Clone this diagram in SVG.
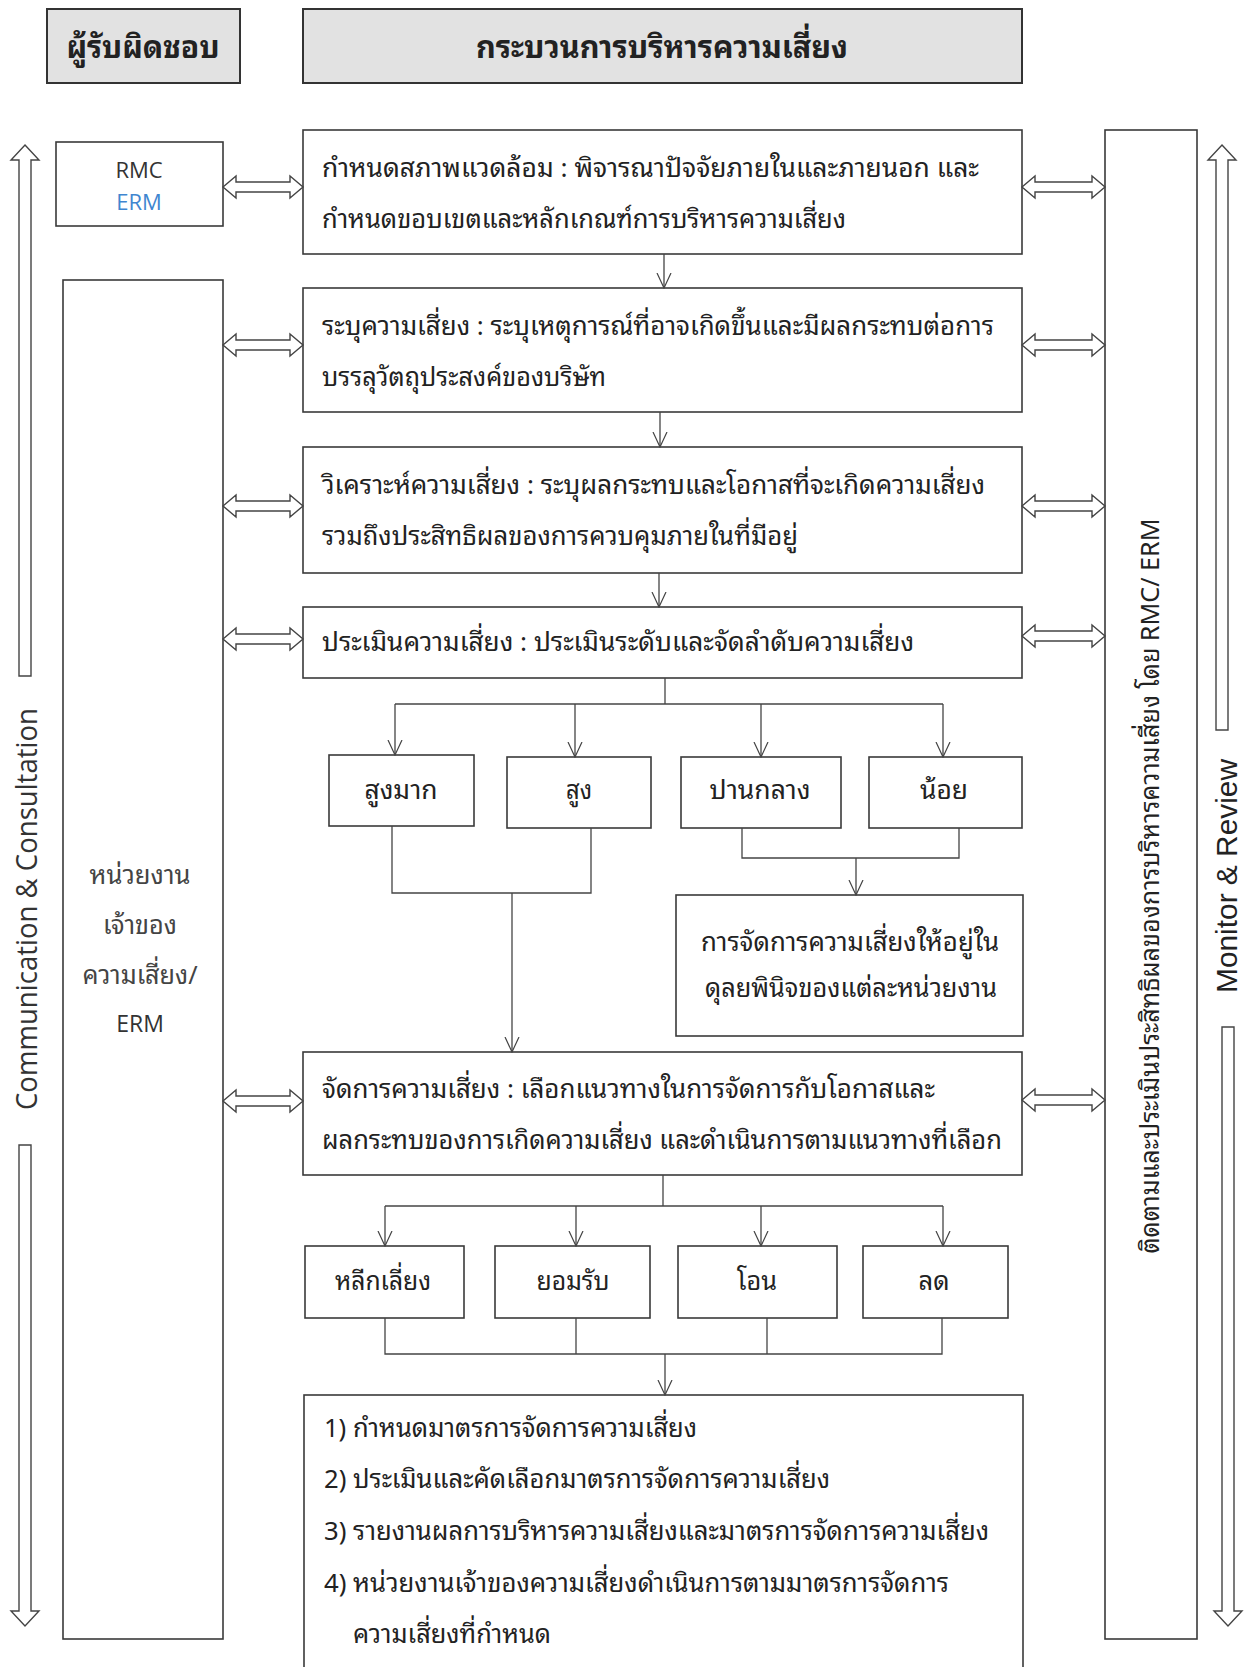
<svg xmlns="http://www.w3.org/2000/svg" width="1252" height="1667" viewBox="0 0 1252 1667">
<defs>
<style>
.hdr{fill:#e2e2e2;stroke:#333;stroke-width:2}
.box{fill:#fff;stroke:#3a3a3a;stroke-width:1.6}
.th{font-family:"Noto Sans Thai Looped","Noto Sans Thai","Noto Sans Thai UI","Loma","Garuda","Tahoma","Noto Sans","DejaVu Sans",sans-serif;fill:#222;font-size:26px}
.hd{font-family:"Noto Sans Thai Looped","Noto Sans Thai","Loma","Garuda","Tahoma","Noto Sans",sans-serif;fill:#222;font-size:31px;font-weight:bold}
.lat{font-family:"Open Sans","Liberation Sans",sans-serif;fill:#333}
.ar{font-family:"Liberation Sans",Arial,sans-serif;fill:#222}
.c{text-anchor:middle}
.ln{fill:none;stroke:#444;stroke-width:1.3}
.ha{fill:#fff;stroke:#444;stroke-width:1.4}
</style>
<marker id="v" markerUnits="userSpaceOnUse" viewBox="0 0 16 16" refX="15" refY="8" markerWidth="16" markerHeight="16" orient="auto">
<path d="M0,1 L15,8 L0,15" fill="none" stroke="#444" stroke-width="1.2"/>
</marker>
</defs>
<rect width="1252" height="1667" fill="#fff"/>

<g id="header-left">
<rect class="hdr" x="47" y="9" width="193" height="74"/>
<text class="hd c" x="143" y="58" textLength="153" lengthAdjust="spacingAndGlyphs">ผู้รับผิดชอบ</text>
</g>
<g id="header-right">
<rect class="hdr" x="303" y="9" width="719" height="74"/>
<text class="hd c" x="662" y="58" textLength="372" lengthAdjust="spacingAndGlyphs">กระบวนการบริหารความเสี่ยง</text>
</g>

<g id="comm-arrow">
<polygon class="ha" points="25,145 39,160 31,160 31,676 19,676 19,160 11,160"/>
<polygon class="ha" points="19,1145 31,1145 31,1611 39,1611 25,1626 11,1611 19,1611"/>
<text class="lat c" transform="translate(37,909) rotate(-90)" font-size="29" textLength="402" lengthAdjust="spacingAndGlyphs">Communication &amp; Consultation</text>
</g>

<g id="monitor-arrow">
<polygon class="ha" points="1222,145 1236,160 1228,160 1228,730 1216,730 1216,160 1208,160"/>
<polygon class="ha" points="1222,1027 1234,1027 1234,1611 1242,1611 1228,1626 1214,1611 1222,1611"/>
<text class="ar c" transform="translate(1237,876) rotate(-90)" font-size="30" textLength="234" lengthAdjust="spacingAndGlyphs">Monitor &amp; Review</text>
</g>

<g id="rmc">
<rect class="box" x="56" y="142" width="167" height="84"/>
<text class="lat c" x="139" y="178" font-size="22">RMC</text>
<text class="lat c" x="139" y="210" font-size="22" style="fill:#3f86d0">ERM</text>
</g>

<g id="owner">
<rect class="box" x="63" y="280" width="160" height="1359"/>
<text class="th c" x="140" y="884" textLength="101" lengthAdjust="spacingAndGlyphs" style="fill:#444">หน่วยงาน</text>
<text class="th c" x="140" y="934" textLength="74" lengthAdjust="spacingAndGlyphs" style="fill:#444">เจ้าของ</text>
<text class="th c" x="140" y="984" textLength="115" lengthAdjust="spacingAndGlyphs" style="fill:#444">ความเสี่ยง/</text>
<text class="lat c" x="140" y="1032" font-size="23" fill="#444">ERM</text>
</g>

<g id="monitor-box">
<rect class="box" x="1105" y="130" width="92" height="1509"/>
<text class="th c" transform="translate(1159,886) rotate(-90)" font-size="24" textLength="735" lengthAdjust="spacingAndGlyphs">ติดตามและประเมินประสิทธิผลของการบริหารความเสี่ยง โดย RMC/ ERM</text>
</g>

<g id="step1">
<rect class="box" x="303" y="130" width="719" height="124"/>
<text class="th" x="322" y="177" textLength="657" lengthAdjust="spacingAndGlyphs">กำหนดสภาพแวดล้อม : พิจารณาปัจจัยภายในและภายนอก และ</text>
<text class="th" x="322" y="228" textLength="524" lengthAdjust="spacingAndGlyphs">กำหนดขอบเขตและหลักเกณฑ์การบริหารความเสี่ยง</text>
</g>
<g id="step2">
<rect class="box" x="303" y="288" width="719" height="124"/>
<text class="th" x="322" y="335" textLength="672" lengthAdjust="spacingAndGlyphs">ระบุความเสี่ยง : ระบุเหตุการณ์ที่อาจเกิดขึ้นและมีผลกระทบต่อการ</text>
<text class="th" x="322" y="386" textLength="284" lengthAdjust="spacingAndGlyphs">บรรลุวัตถุประสงค์ของบริษัท</text>
</g>
<g id="step3">
<rect class="box" x="303" y="447" width="719" height="126"/>
<text class="th" x="322" y="494" textLength="663" lengthAdjust="spacingAndGlyphs">วิเคราะห์ความเสี่ยง : ระบุผลกระทบและโอกาสที่จะเกิดความเสี่ยง</text>
<text class="th" x="322" y="545" textLength="476" lengthAdjust="spacingAndGlyphs">รวมถึงประสิทธิผลของการควบคุมภายในที่มีอยู่</text>
</g>
<g id="step4">
<rect class="box" x="303" y="607" width="719" height="71"/>
<text class="th" x="322" y="651" textLength="592" lengthAdjust="spacingAndGlyphs">ประเมินความเสี่ยง : ประเมินระดับและจัดลำดับความเสี่ยง</text>
</g>

<g id="lv-very-high">
<rect class="box" x="329" y="755" width="145" height="71"/>
<text class="th c" x="401" y="799" textLength="73" lengthAdjust="spacingAndGlyphs">สูงมาก</text>
</g>
<g id="lv-high">
<rect class="box" x="507" y="757" width="144" height="71"/>
<text class="th c" x="579" y="799" textLength="26" lengthAdjust="spacingAndGlyphs">สูง</text>
</g>
<g id="lv-medium">
<rect class="box" x="681" y="757" width="160" height="71"/>
<text class="th c" x="760" y="799" textLength="101" lengthAdjust="spacingAndGlyphs">ปานกลาง</text>
</g>
<g id="lv-low">
<rect class="box" x="869" y="757" width="153" height="71"/>
<text class="th c" x="944" y="799" textLength="48" lengthAdjust="spacingAndGlyphs">น้อย</text>
</g>

<g id="unit-discretion">
<rect class="box" x="676" y="895" width="347" height="141"/>
<text class="th c" x="850" y="951" textLength="298" lengthAdjust="spacingAndGlyphs">การจัดการความเสี่ยงให้อยู่ใน</text>
<text class="th c" x="851" y="997" textLength="292" lengthAdjust="spacingAndGlyphs">ดุลยพินิจของแต่ละหน่วยงาน</text>
</g>

<g id="step5">
<rect class="box" x="303" y="1052" width="719" height="123"/>
<text class="th" x="322" y="1098" textLength="613" lengthAdjust="spacingAndGlyphs">จัดการความเสี่ยง : เลือกแนวทางในการจัดการกับโอกาสและ</text>
<text class="th" x="322" y="1149" textLength="680" lengthAdjust="spacingAndGlyphs">ผลกระทบของการเกิดความเสี่ยง และดำเนินการตามแนวทางที่เลือก</text>
</g>

<g id="tr-avoid">
<rect class="box" x="305" y="1246" width="159" height="72"/>
<text class="th c" x="383" y="1290" textLength="96" lengthAdjust="spacingAndGlyphs">หลีกเลี่ยง</text>
</g>
<g id="tr-accept">
<rect class="box" x="495" y="1246" width="155" height="72"/>
<text class="th c" x="573" y="1290" textLength="73" lengthAdjust="spacingAndGlyphs">ยอมรับ</text>
</g>
<g id="tr-transfer">
<rect class="box" x="678" y="1246" width="159" height="72"/>
<text class="th c" x="757" y="1290" textLength="40" lengthAdjust="spacingAndGlyphs">โอน</text>
</g>
<g id="tr-reduce">
<rect class="box" x="863" y="1246" width="145" height="72"/>
<text class="th c" x="934" y="1290" textLength="31" lengthAdjust="spacingAndGlyphs">ลด</text>
</g>

<g id="measures">
<rect class="box" x="304" y="1395" width="719" height="300"/>
<text class="th" x="324" y="1437" textLength="373" lengthAdjust="spacingAndGlyphs">1) กำหนดมาตรการจัดการความเสี่ยง</text>
<text class="th" x="324" y="1488" textLength="506" lengthAdjust="spacingAndGlyphs">2) ประเมินและคัดเลือกมาตรการจัดการความเสี่ยง</text>
<text class="th" x="324" y="1540" textLength="665" lengthAdjust="spacingAndGlyphs">3) รายงานผลการบริหารความเสี่ยงและมาตรการจัดการความเสี่ยง</text>
<text class="th" x="324" y="1592" textLength="625" lengthAdjust="spacingAndGlyphs">4) หน่วยงานเจ้าของความเสี่ยงดำเนินการตามมาตรการจัดการ</text>
<text class="th" x="353" y="1643" textLength="198" lengthAdjust="spacingAndGlyphs">ความเสี่ยงที่กำหนด</text>
</g>

<g id="connectors">
<line class="ln" x1="664" y1="254" x2="664" y2="288" marker-end="url(#v)"/>
<line class="ln" x1="660" y1="412" x2="660" y2="447" marker-end="url(#v)"/>
<line class="ln" x1="659" y1="573" x2="659" y2="607" marker-end="url(#v)"/>
<polyline class="ln" points="665,678 665,704"/>
<polyline class="ln" points="395,704 943,704"/>
<line class="ln" x1="395" y1="704" x2="395" y2="755" marker-end="url(#v)"/>
<line class="ln" x1="575" y1="704" x2="575" y2="757" marker-end="url(#v)"/>
<line class="ln" x1="761" y1="704" x2="761" y2="757" marker-end="url(#v)"/>
<line class="ln" x1="943" y1="704" x2="943" y2="757" marker-end="url(#v)"/>
<polyline class="ln" points="392,826 392,893 591,893 591,828"/>
<line class="ln" x1="512" y1="893" x2="512" y2="1052" marker-end="url(#v)"/>
<polyline class="ln" points="742,828 742,858 959,858 959,828"/>
<line class="ln" x1="856" y1="858" x2="856" y2="895" marker-end="url(#v)"/>
<polyline class="ln" points="663,1175 663,1206"/>
<polyline class="ln" points="385,1206 943,1206"/>
<line class="ln" x1="385" y1="1206" x2="385" y2="1246" marker-end="url(#v)"/>
<line class="ln" x1="576" y1="1206" x2="576" y2="1246" marker-end="url(#v)"/>
<line class="ln" x1="761" y1="1206" x2="761" y2="1246" marker-end="url(#v)"/>
<line class="ln" x1="943" y1="1206" x2="943" y2="1246" marker-end="url(#v)"/>
<polyline class="ln" points="385,1318 385,1354 942,1354 942,1318"/>
<line class="ln" x1="576" y1="1318" x2="576" y2="1354"/>
<line class="ln" x1="767" y1="1318" x2="767" y2="1354"/>
<line class="ln" x1="665" y1="1354" x2="665" y2="1395" marker-end="url(#v)"/>

<polygon class="ha" points="223,187 236,176 236,182 290,182 290,176 303,187 290,198 290,192 236,192 236,198"/>
<polygon class="ha" points="223,345 236,334 236,340 290,340 290,334 303,345 290,356 290,350 236,350 236,356"/>
<polygon class="ha" points="223,506 236,495 236,501 290,501 290,495 303,506 290,517 290,511 236,511 236,517"/>
<polygon class="ha" points="223,639 236,628 236,634 290,634 290,628 303,639 290,650 290,644 236,644 236,650"/>
<polygon class="ha" points="223,1101 236,1090 236,1096 290,1096 290,1090 303,1101 290,1112 290,1106 236,1106 236,1112"/>

<polygon class="ha" points="1022,187 1035,176 1035,182 1092,182 1092,176 1105,187 1092,198 1092,192 1035,192 1035,198"/>
<polygon class="ha" points="1022,345 1035,334 1035,340 1092,340 1092,334 1105,345 1092,356 1092,350 1035,350 1035,356"/>
<polygon class="ha" points="1022,506 1035,495 1035,501 1092,501 1092,495 1105,506 1092,517 1092,511 1035,511 1035,517"/>
<polygon class="ha" points="1022,636 1035,625 1035,631 1092,631 1092,625 1105,636 1092,647 1092,641 1035,641 1035,647"/>
<polygon class="ha" points="1022,1100 1035,1089 1035,1095 1092,1095 1092,1089 1105,1100 1092,1111 1092,1105 1035,1105 1035,1111"/>
</g>
</svg>
